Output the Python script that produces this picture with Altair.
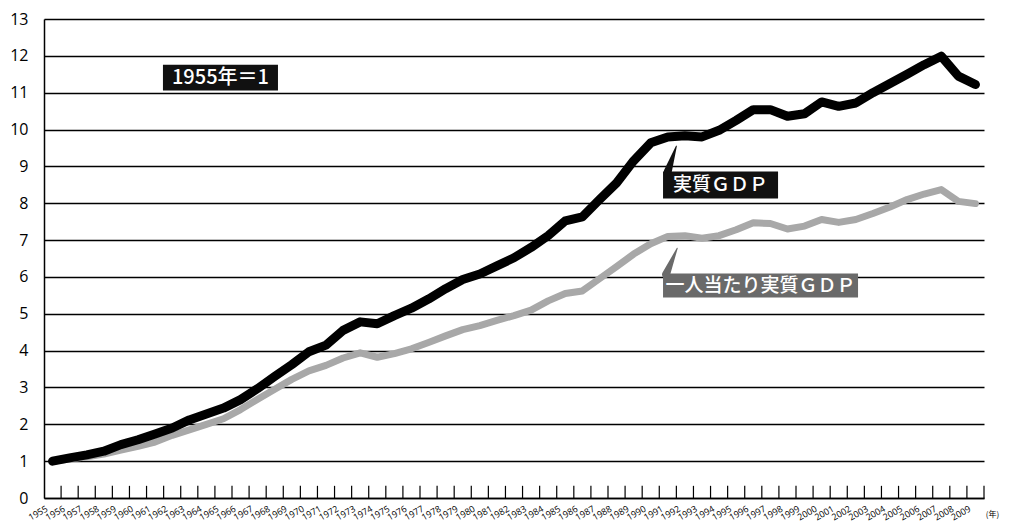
import altair as alt
import pandas as pd

years = list(range(1955, 2010))
gdp = [1.00, 1.09, 1.17, 1.27, 1.45, 1.58, 1.74, 1.90, 2.12, 2.28,
       2.44, 2.67, 2.97, 3.30, 3.62, 3.97, 4.15, 4.55, 4.78, 4.73,
       4.95, 5.15, 5.40, 5.68, 5.93, 6.08, 6.30, 6.52, 6.80, 7.12,
       7.52, 7.63, 8.10, 8.55, 9.15, 9.64, 9.80, 9.83, 9.80, 9.98,
       10.25, 10.54, 10.54, 10.36, 10.43, 10.75, 10.63, 10.72, 11.00, 11.25,
       11.50, 11.76, 11.99, 11.45, 11.22]
gdp_pc = [1.00, 1.06, 1.12, 1.19, 1.30, 1.40, 1.52, 1.70, 1.85, 2.00,
          2.15, 2.40, 2.68, 2.95, 3.22, 3.45, 3.60, 3.80, 3.94, 3.82,
          3.92, 4.05, 4.22, 4.40, 4.57, 4.68, 4.82, 4.95, 5.10, 5.35,
          5.55, 5.62, 5.95, 6.28, 6.62, 6.90, 7.10, 7.12, 7.05, 7.12,
          7.28, 7.47, 7.45, 7.30, 7.38, 7.56, 7.48, 7.56, 7.72, 7.90,
          8.10, 8.25, 8.37, 8.05, 7.99]
y_ticks = list(range(0, 14))

FONT = "Open Sans"
JP = "Noto Sans CJK JP"

df = pd.DataFrame({"year": years, "gdp": gdp, "gdp_pc": gdp_pc})

xscale = alt.Scale(domain=[1954.5, 2009.5], nice=False, zero=False)
yscale = alt.Scale(domain=[0, 13], nice=False)

xaxis = alt.Axis(values=years, format="d", labelAngle=330, tickSize=0,
                 labelFontSize=9, labelFont=FONT, labelColor="black",
                 domainColor="black", domainWidth=1.5, grid=False,
                 labelPadding=6, labelOverlap=False, labelOffset=-8, labelBound=False)
yaxis = alt.Axis(values=y_ticks, tickCount=14, tickSize=0, labelPadding=16, labelOverlap=False,
                 labelFontSize=16, labelFont=FONT, labelColor="black",
                 domainColor="black", domainWidth=1.5,
                 grid=True, gridColor="black", gridWidth=1.4, gridOpacity=1)


def X(field):
    return alt.X(field, scale=xscale, title=None, axis=xaxis)


def Y(field):
    return alt.Y(field, scale=yscale, title=None, axis=yaxis)


base = alt.Chart(df)

line_pc = base.mark_line(color="#a8a8a8", strokeWidth=7, strokeJoin="round", strokeCap="round").encode(
    x=X("year:Q"), y=Y("gdp_pc:Q"),
)
line_gdp = base.mark_line(color="black", strokeWidth=9, strokeJoin="round", strokeCap="round").encode(
    x=X("year:Q"), y=Y("gdp:Q"),
)

ticks = base.transform_calculate(xt="datum.year + 0.5", t0="0", t1="0.33").mark_rule(
    color="black", strokeWidth=1.2).encode(
    x=X("xt:Q"), y=Y("t0:Q"), y2="t1:Q"
)

# annotation boxes
boxes = pd.DataFrame({
    "label": ["1955年＝1", "実質ＧＤＰ", "一人当たり実質ＧＤＰ"],
    "x1": [1961.46, 1990.72, 1990.72],
    "x2": [1968.19, 1997.45, 2002.13],
    "y1": [11.06, 8.13, 5.44],
    "y2": [11.76, 8.86, 6.09],
    "fill": ["#111111", "#111111", "#6a6a6a"],
    "fs": [20, 19, 19],
})
boxes["xc"] = (boxes["x1"] + boxes["x2"]) / 2
boxes["yc"] = (boxes["y1"] + boxes["y2"]) / 2

rects = alt.Chart(boxes).mark_rect().encode(
    x=X("x1:Q"), x2="x2:Q", y=Y("y1:Q"), y2="y2:Q",
    color=alt.Color("fill:N", scale=None),
)
texts = alt.Chart(boxes).mark_text(color="white", font=JP, baseline="middle", fontWeight=500).encode(
    x=X("xc:Q"), y=Y("yc:Q"), text="label:N",
    size=alt.Size("fs:Q", scale=None, legend=None),
)

pointers = pd.DataFrame({
    "grp": ["a", "a", "b", "b"],
    "px": [1991.0, 1991.5, 1990.9, 1991.55],
    "py": [8.86, 9.55, 6.07, 6.78],
    "w": [8, 1, 8, 1],
    "fill": ["#111111", "#111111", "#6a6a6a", "#6a6a6a"],
})
trail = alt.Chart(pointers).mark_trail().encode(
    x=X("px:Q"), y=Y("py:Q"), detail="grp:N",
    size=alt.Size("w:Q", scale=None, legend=None),
    color=alt.Color("fill:N", scale=None),
)

unit = alt.Chart(pd.DataFrame({"t": ["(年)"], "x": [2009.6], "y": [-0.45]})).mark_text(
    font=JP, fontSize=8, color="black", align="left").encode(x=X("x:Q"), y=Y("y:Q"), text="t:N")

chart = alt.layer(line_pc, line_gdp, ticks, rects, texts, trail, unit).properties(
    width=940, height=479,
    autosize=alt.AutoSizeParams(type="none"),
    padding={"left": 36, "top": 11, "right": 18, "bottom": 26},
).configure_view(stroke=None)

chart.save("out.html", embed_options={"renderer": "svg", "actions": False})
